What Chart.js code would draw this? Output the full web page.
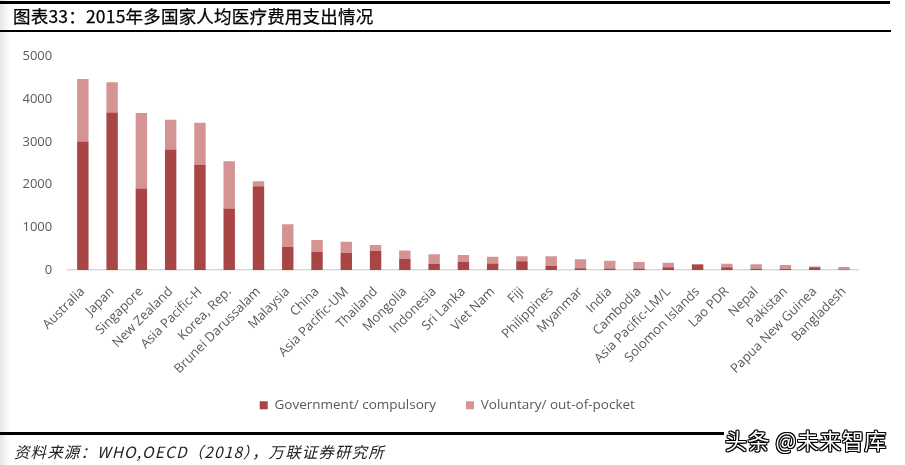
<!DOCTYPE html>
<html>
<head>
<meta charset="utf-8">
<script src="https://cdn.jsdelivr.net/npm/chart.js@4.4.1/dist/chart.umd.min.js"></script>
<style>
  html, body { margin: 0; padding: 0; background: #fff; }
  body { width: 905px; height: 465px; position: relative; overflow: hidden;
         background: linear-gradient(to right, #e6e6e6 0px, #f6f6f6 6px, #ffffff 11px); }
  #c { position: absolute; left: 0; top: 0; z-index: 1; }
  .line { position: absolute; background: #000; z-index: 5; }
  #title { position: absolute; left: 13px; top: 4px; font-family: 'Noto Sans CJK SC', sans-serif; z-index: 5;
           font-size: 17.5px; font-weight: 400; color: #000; -webkit-text-stroke: 0.25px #000;
           line-height: 24px; white-space: nowrap; letter-spacing: 0.2px; }
  #source { position: absolute; left: 14px; top: 440px; font-family: 'Noto Sans CJK SC', sans-serif; z-index: 5;
            font-style: italic; font-size: 15.5px; color: #222; line-height: 22px; white-space: nowrap; letter-spacing: 1.1px; }
  #wm { position: absolute; left: 725px; top: 425px; font-family: 'Noto Sans CJK SC', sans-serif; z-index: 6;
        font-size: 22px; font-weight: 400; color: #fff;
        text-shadow: 1px 0 0 #000, -1px 0 0 #000, 0 1px 0 #000, 0 -1px 0 #000,
                     1px 1px 0 #000, -1px -1px 0 #000, 1px -1px 0 #000, -1px 1px 0 #000;
        line-height: 28px; white-space: nowrap; letter-spacing: 0.5px; }
</style>
</head>
<body>
<canvas id="c" width="905" height="465"></canvas>
<div class="line" style="left:0;top:1px;width:890px;height:2.5px"></div>
<div id="title">图表33：2015年多国家人均医疗费用支出情况</div>
<div class="line" style="left:0;top:29.5px;width:891px;height:2.5px"></div>
<div class="line" style="left:0;top:432px;width:724px;height:3px"></div>
<div id="wm">头条 @未来智库</div>
<div id="source">资料来源：WHO,OECD（2018），万联证券研究所</div>
<script>
const categories = ['Australia','Japan','Singapore','New Zealand','Asia Pacific-H','Korea, Rep.','Brunei Darussalam','Malaysia','China','Asia Pacific-UM','Thailand','Mongolia','Indonesia','Sri Lanka','Viet Nam','Fiji','Philippines','Myanmar','India','Cambodia','Asia Pacific-LM/L','Solomon Islands','Lao PDR','Nepal','Pakistan','Papua New Guinea','Bangladesh'];
const governmentCompulsory = [3010,3690,1910,2825,2470,1440,1965,545,430,405,445,258,140,196,150,203,100,42,38,38,62,126,62,22,22,65,12];
const voluntaryOutOfPocket = [1470,710,1770,695,980,1110,115,525,275,260,140,202,228,156,163,117,220,210,180,150,109,15,86,110,95,15,58];
const seriesNames = ['Government/ compulsory','Voluntary/ out-of-pocket'];
const yTicks = [0,1000,2000,3000,4000,5000];

Chart.defaults.font.family = "'Open Sans', sans-serif";
Chart.defaults.font.size = 13;
Chart.defaults.color = '#595959';

const legendShift = {
  id: 'legendShift',
  afterLayout(chart) {
    const l = chart.legend;
    if (!l) return;
    l.top -= 13.5; l.bottom -= 13.5;
    l.left += 18; l.right += 18;
  }
};

new Chart(document.getElementById('c'), {
  type: 'bar',
  data: {
    labels: categories,
    datasets: [
      { label: seriesNames[0], data: governmentCompulsory, backgroundColor: '#A94545' },
      { label: seriesNames[1], data: voluntaryOutOfPocket, backgroundColor: '#D49494' }
    ]
  },
  plugins: [legendShift],
  options: {
    responsive: false,
    animation: false,
    devicePixelRatio: 1,
    layout: { padding: { left: 0, right: 46.4, top: 56.7, bottom: 29.5 } },
    datasets: { bar: { barPercentage: 0.39, categoryPercentage: 1 } },
    plugins: {
      legend: {
        position: 'bottom',
        labels: { boxWidth: 8, boxHeight: 8, padding: 30, color: '#595959', font: { size: 13.5 } }
      },
      tooltip: { enabled: false },
      title: { display: false }
    },
    scales: {
      x: {
        stacked: true,
        grid: { display: false, drawTicks: false },
        border: { display: true, color: '#d9d9d9', width: 1.5 },
        ticks: { autoSkip: false, minRotation: 45, maxRotation: 45, padding: 14, color: '#595959', font: { size: 13 } },
        afterFit: (s) => { s.height = 112; }
      },
      y: {
        stacked: true,
        min: 0, max: 5000,
        afterBuildTicks: (s) => { s.ticks = yTicks.map(v => ({ value: v })); },
        grid: { display: false, drawTicks: false },
        border: { display: false },
        ticks: { padding: 16, color: '#595959', font: { size: 13 }, callback: (v) => String(v) },
        afterFit: (s) => { s.width = 68.2; }
      }
    }
  }
});
</script>
</body>
</html>
